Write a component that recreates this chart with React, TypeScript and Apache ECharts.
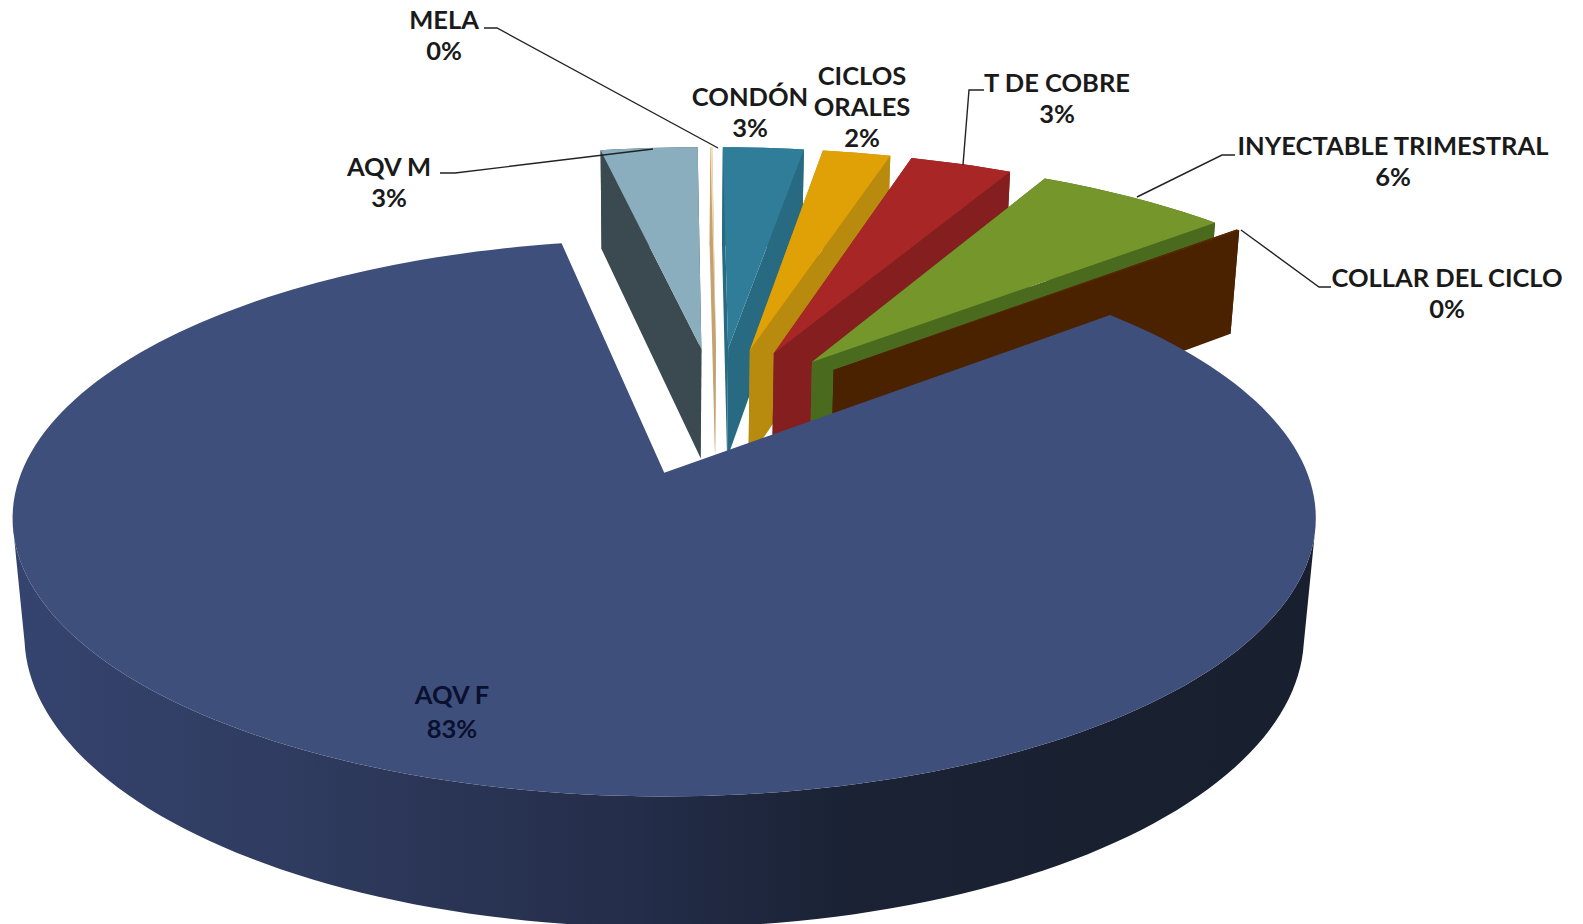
import React, { useEffect, useRef } from "react";
import * as echarts from "echarts";

// ---- data (clockwise, back to front, AQV F drawn last) ----
const categories = ["AQV M", "MELA", "CONDÓN", "CICLOS\nORALES", "T DE COBRE", "INYECTABLE TRIMESTRAL", "COLLAR DEL CICLO", "AQV F"];
const shares = [3.0, 0.06, 2.5, 2.1, 3.15, 5.95, 0.1, 83.14];

// ---- styles ----
const topColors = ["#8BAEBF", "#F5DDB0", "#2F7D98", "#E0A106", "#A92626", "#74962B", "#5A2A00", "#3F4F7B"];
const wallColors = ["#3A4A50", "#C4A272", "#276A82", "#B88A0E", "#851F1F", "#4A6A1E", "#4B2200"];
const mainWallStops = [
  { offset: 0, color: "#35446F" },
  { offset: 0.22, color: "#2F3B5F" },
  { offset: 0.48, color: "#242D49" },
  { offset: 0.64, color: "#1A2234" },
  { offset: 1, color: "#181F2E" },
];

// ---- projection of the pie's plane ----
const START_ANGLE = 349.3;
const X0 = 666, Y0 = 473, A = 643, B = 271, K = 0.163;
const M = 0.018, H = 116, B2 = 289.6;
const EXPLODE = 0.255, CU = 0.083, CV = -0.241;

const rad = (d: number) => (d * Math.PI) / 180;
const topPt = (u: number, v: number) => {
  const w = 1 - K * v;
  return [X0 + (A * u) / w, Y0 + (B * v) / w];
};
const botPt = (u: number, v: number) => {
  const w = 1 - K * v + M;
  return [X0 + (A * u) / w, Y0 + H + (B2 * v) / w];
};

// ---- label placement ----
const labelBoxes = [
  { x: 389, y: 181 },
  { x: 444, y: 34 },
  { x: 750, y: 111 },
  { x: 862, y: 106 },
  { x: 1057, y: 97 },
  { x: 1393, y: 160 },
  { x: 1447, y: 292 },
  { x: 452, y: 711 },
];
const leaders: number[][][] = [
  [[440, 173], [455, 173], [653, 149]],
  [[484, 28], [497, 28], [718, 148]],
  [],
  [],
  [[984, 90], [969, 90], [963, 165]],
  [[1235, 155], [1222, 155], [1137, 197]],
  [[1331, 287], [1319, 287], [1241, 230]],
  [],
];

const renderItem = (params: any, api: any) => {
  const i = params.dataIndex;
  const value = api.value(1);
  const total = shares.reduce((a, b) => a + b, 0);
  const before = shares.slice(0, i).reduce((a, b) => a + b, 0);
  const a0 = START_ANGLE + (before / total) * 360;
  const a1 = a0 + (value / total) * 360;
  const mid = rad((a0 + a1) / 2);
  const ou = CU + EXPLODE * Math.sin(mid);
  const ov = CV - EXPLODE * Math.cos(mid);
  const rim: number[][] = [];
  const n = Math.max(2, Math.ceil((a1 - a0) / 1.5));
  for (let s = 0; s <= n; s++) {
    const t = rad(a0 + ((a1 - a0) * s) / n);
    rim.push([ou + Math.sin(t), ov - Math.cos(t)]);
  }
  const topRim = rim.map((p) => topPt(p[0], p[1]));
  const botRim = rim.map((p) => botPt(p[0], p[1]));
  const apexTop = topPt(ou, ov);
  const apexBot = botPt(ou, ov);
  const isMain = i === categories.length - 1;
  const children: any[] = [];
  const poly = (points: number[][], fill: any) =>
    children.push({ type: "polygon", shape: { points }, style: { fill, stroke: "none" } });

  if (isMain) {
    // the wall between the two silhouette tangents, i.e. the part in front
    const front = rim.map((p, s) => (p[1] >= K ? s : -1)).filter((s) => s >= 0);
    poly(
      [...front.map((s) => topRim[s]), ...front.slice().reverse().map((s) => botRim[s])],
      new echarts.graphic.LinearGradient(0, 0, 1, 0, mainWallStops)
    );
  } else {
    poly([apexTop, topRim[0], botRim[0], apexBot], wallColors[i]);
    poly([apexTop, topRim[n], botRim[n], apexBot], wallColors[i]);
    poly([...topRim, ...botRim.slice().reverse()], wallColors[i]);
  }
  poly([apexTop, ...topRim], topColors[i]);

  if (leaders[i].length) {
    children.push({
      type: "polyline",
      shape: { points: leaders[i] },
      style: { stroke: "#222222", lineWidth: 1.4, fill: "none" },
    });
  }
  children.push({
    type: "text",
    style: {
      text: `${categories[i]}\n${Math.round(value)}%`,
      x: labelBoxes[i].x,
      y: labelBoxes[i].y,
      align: "center",
      verticalAlign: "middle",
      fontFamily: "Lato",
      fontWeight: 700,
      fontSize: 25.5,
      lineHeight: isMain ? 34 : 31,
      fill: isMain ? "#0A1030" : "#1A1A1A",
    },
  });
  return { type: "group", children };
};

export default function App() {
  const ref = useRef<HTMLDivElement>(null);
  useEffect(() => {
    const chart = echarts.init(ref.current!, null, { renderer: "svg" });
    chart.setOption({
      animation: false,
      backgroundColor: "#FFFFFF",
      series: [
        {
          type: "custom",
          coordinateSystem: "none",
          silent: true,
          clip: false,
          renderItem,
          data: shares.map((v, i) => [i, v]),
        },
      ],
    });
    return () => chart.dispose();
  }, []);
  return (
    <div
      ref={ref}
      style={{ position: "absolute", left: 0, top: 0, width: 1583, height: 924, overflow: "hidden" }}
    />
  );
}
